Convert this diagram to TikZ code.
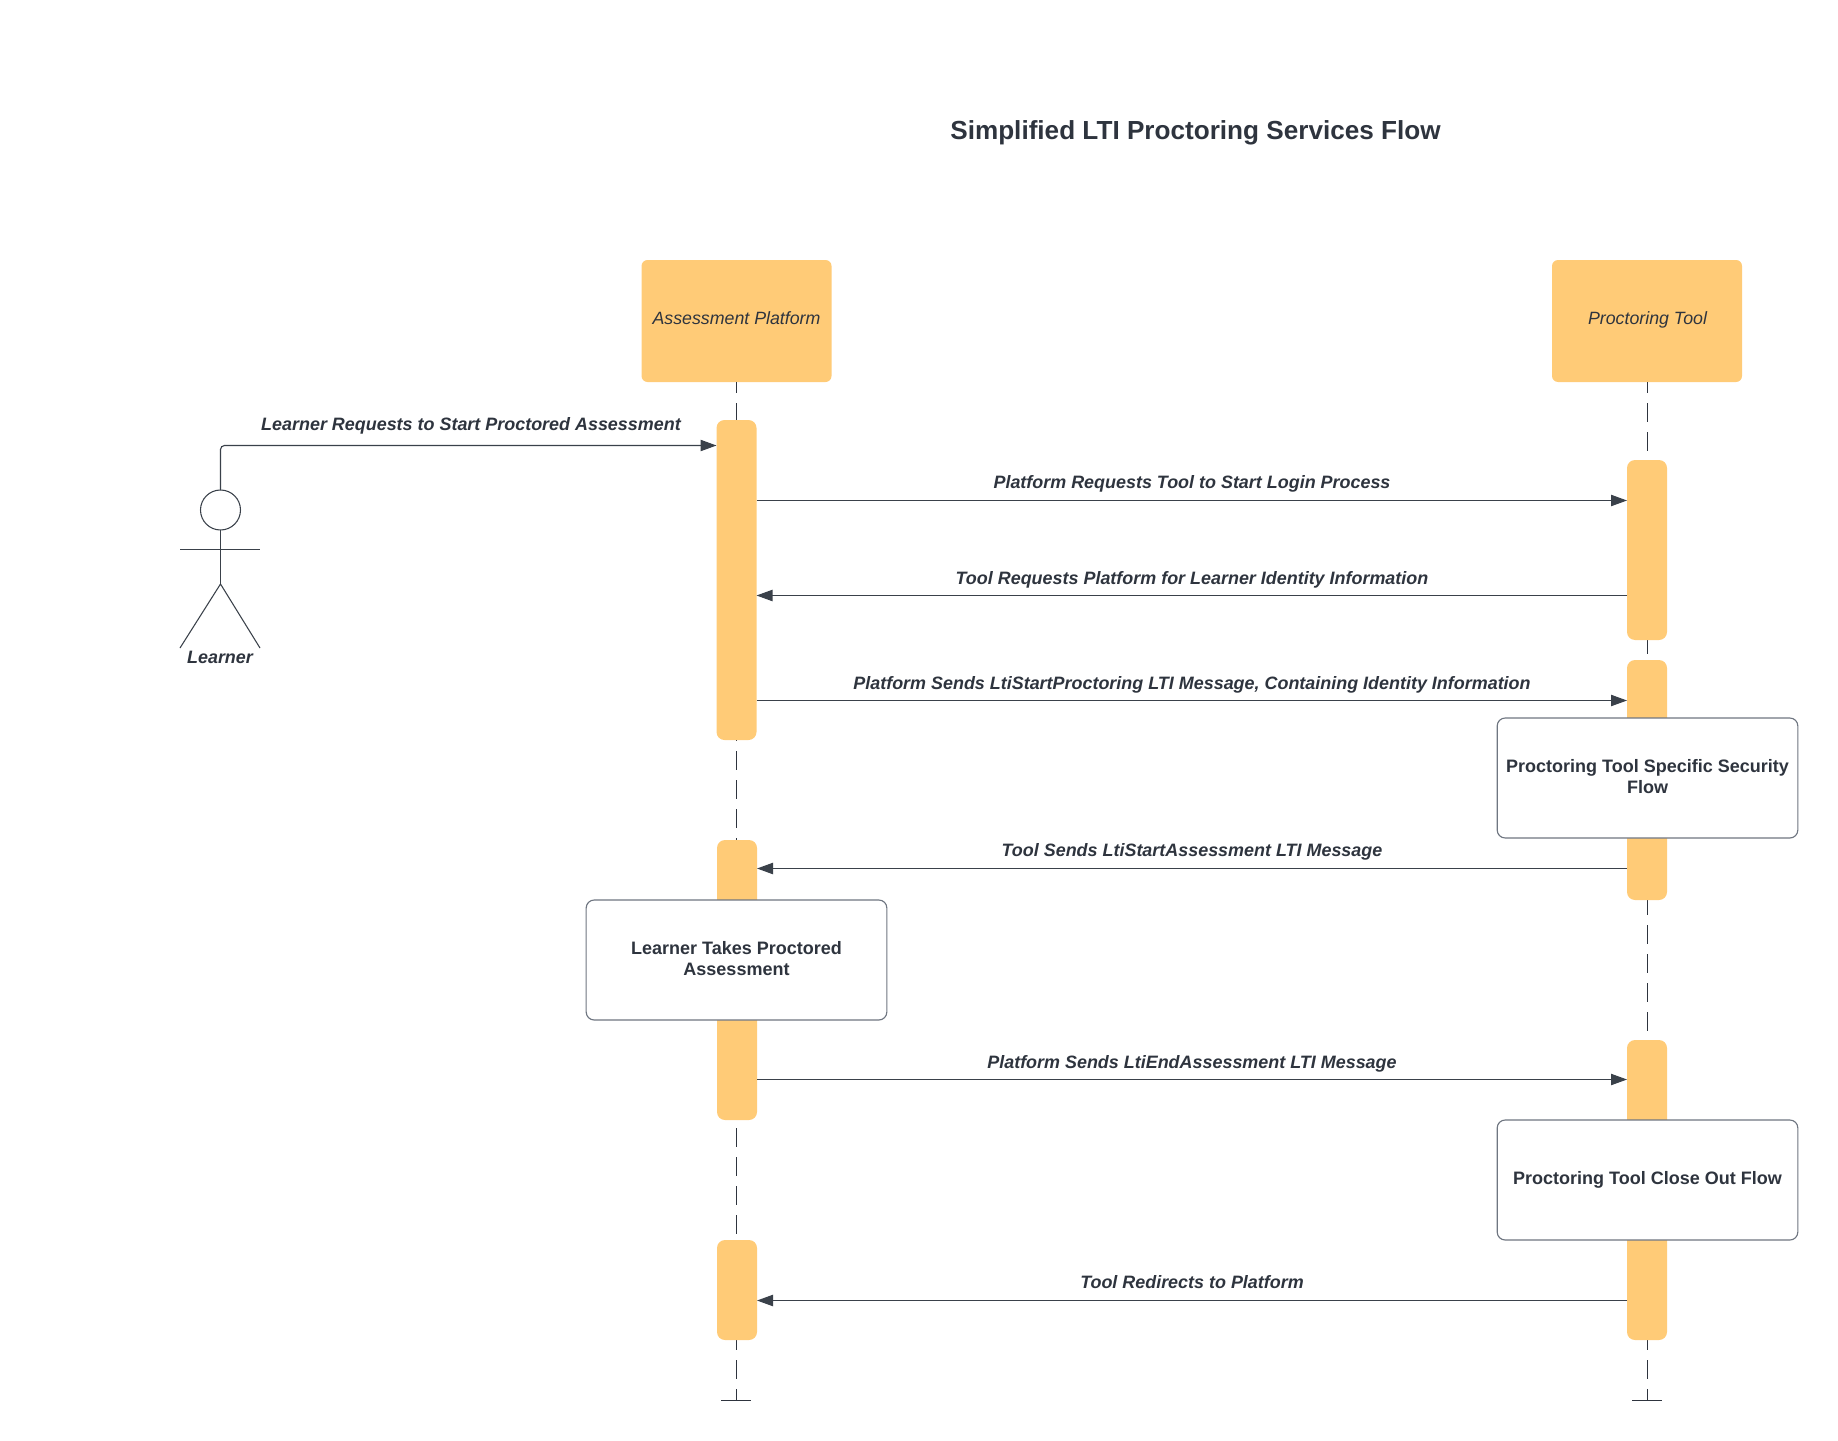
\documentclass[tikz,border=0pt]{standalone}
\usepackage{fontspec}
\setmainfont{Liberation Sans}
\usetikzlibrary{arrows.meta}
\definecolor{barfill}{HTML}{FFCB77}
\definecolor{ink}{HTML}{3A414A}
\definecolor{rim}{HTML}{6F7681}
\definecolor{txt}{HTML}{2E343E}
\tikzset{
  x=0.75pt,y=-0.75pt,
  bar/.style={fill=barfill,draw=none,rounded corners=6pt,minimum width=30pt,inner sep=0pt,outer sep=0pt},
  head/.style={fill=barfill,draw=none,rounded corners=4.5pt,minimum width=142.5pt,minimum height=91.5pt,inner sep=0pt,outer sep=0pt},
  headlabel/.style={inner sep=0pt,font=\fontsize{13.33}{16}\selectfont\itshape,text=txt,anchor=base},
  notebox/.style={fill=white,draw=rim,line width=0.85pt,rounded corners=6pt,minimum width=225.5pt,minimum height=90pt,inner sep=0pt,outer sep=0pt},
  notelabel/.style={inner sep=0pt,align=center,font=\fontsize{13.5}{16}\selectfont\bfseries,text=txt},
  lifeline/.style={draw=txt,line width=0.8pt,dash pattern=on 14.25pt off 7.5pt,dash phase=6pt},
  tee/.style={draw=txt,line width=0.8pt},
  msg/.style={draw=ink,line width=0.85pt,-{Triangle[length=12pt,width=8.5pt]}},
  msglabel/.style={inner sep=0pt,font=\fontsize{13.45}{16}\selectfont\bfseries\itshape,text=txt},
  stick/.style={draw=ink,line width=0.8pt}
}
\begin{document}
\begin{tikzpicture}
\useasboundingbox (0,0) rectangle (1838,1441);
\node[inner sep=0pt,font=\fontsize{19.6}{24}\selectfont\bfseries,text=txt] (title) at (1195.5,133) {Simplified LTI Proctoring Services Flow};
% heads
\node[head] (platform) at (736.5,321) {};
\node[head] (tool) at (1647,321) {};
\node[headlabel] (platformlabel) at (736.5,324.5) {Assessment Platform};
\node[headlabel] (toollabel) at (1647.5,324.5) {Proctoring Tool};
% lifeline ends
\coordinate (pend) at (736.5,1400.5);
\coordinate (tend) at (1647.5,1400.5);
\coordinate (tstart) at (1647.5,382);
\coordinate (pl) at (721,1400.5); \coordinate (pr) at (751,1400.5);
\coordinate (tl) at (1632,1400.5); \coordinate (tr) at (1662,1400.5);
\draw[lifeline] (platform.south) -- (pend);
\draw[lifeline] (tstart) -- (tend);
\draw[tee] (pl) -- (pr);
\draw[tee] (tl) -- (tr);
% activation bars
\node[bar,minimum height=240pt] (p1) at (736.5,580) {};
\node[bar,minimum height=210pt] (p2) at (737,980) {};
\node[bar,minimum height=75pt] (p3) at (737,1290) {};
\node[bar,minimum height=135pt] (t1) at (1647,550) {};
\node[bar,minimum height=180pt] (t2) at (1647,780) {};
\node[bar,minimum height=225pt] (t3) at (1647,1190) {};
% notes
\node[notebox] (n1) at (1647.5,778) {};
\node[notelabel] (n1label) at (1647.5,776.5) {Proctoring Tool Specific Security\\Flow};
\node[notebox] (n2) at (736.5,960) {};
\node[notelabel] (n2label) at (736.5,958.5) {Learner Takes Proctored\\Assessment};
\node[notebox] (n3) at (1647.5,1180) {};
\node[notelabel] (n3label) at (1647.5,1179.5) {Proctoring Tool Close Out Flow};
% actor
\node[circle,draw=ink,line width=0.8pt,fill=white,minimum size=30pt,inner sep=0pt,outer sep=0pt] (lhead) at (220.5,510) {};
\coordinate (arml) at (180,549.5); \coordinate (armr) at (260,549.5);
\coordinate (hip) at (220.5,584);
\coordinate (legl) at (180,648); \coordinate (legr) at (260,648);
\draw[stick] (lhead.south) -- (hip);
\draw[stick] (arml) -- (armr);
\draw[stick] (legl) -- (hip) -- (legr);
\node[msglabel] (learner) at (220,657) {Learner};
% messages
\coordinate (m0) at (p1.west |- 0,445.5);
\draw[msg,rounded corners=3pt] (lhead.north) |- (m0);
\node[msglabel] (l0) at (471,426) {Learner Requests to Start Proctored Assessment};
\coordinate (a1) at (p1.east |- 0,500.5); \coordinate (b1) at (t1.west |- 0,500.5);
\draw[msg] (a1) -- (b1);
\node[msglabel] (l1) at (1192,483.5) {Platform Requests Tool to Start Login Process};
\coordinate (a2) at (t1.west |- 0,595.5); \coordinate (b2) at (p1.east |- 0,595.5);
\draw[msg] (a2) -- (b2);
\node[msglabel] (l2) at (1192,580) {Tool Requests Platform for Learner Identity Information};
\coordinate (a3) at (p1.east |- 0,700.5); \coordinate (b3) at (t2.west |- 0,700.5);
\draw[msg] (a3) -- (b3);
\node[msglabel] (l3) at (1192,685) {Platform Sends LtiStartProctoring LTI Message, Containing Identity Information};
\coordinate (a4) at (t2.west |- 0,868.5); \coordinate (b4) at (p2.east |- 0,868.5);
\draw[msg] (a4) -- (b4);
\node[msglabel] (l4) at (1192,852) {Tool Sends LtiStartAssessment LTI Message};
\coordinate (a5) at (p2.east |- 0,1079.5); \coordinate (b5) at (t3.west |- 0,1079.5);
\draw[msg] (a5) -- (b5);
\node[msglabel] (l5) at (1192,1064) {Platform Sends LtiEndAssessment LTI Message};
\coordinate (a6) at (t3.west |- 0,1300.5); \coordinate (b6) at (p3.east |- 0,1300.5);
\draw[msg] (a6) -- (b6);
\node[msglabel] (l6) at (1192,1282.5) {Tool Redirects to Platform};
\end{tikzpicture}
\end{document}
